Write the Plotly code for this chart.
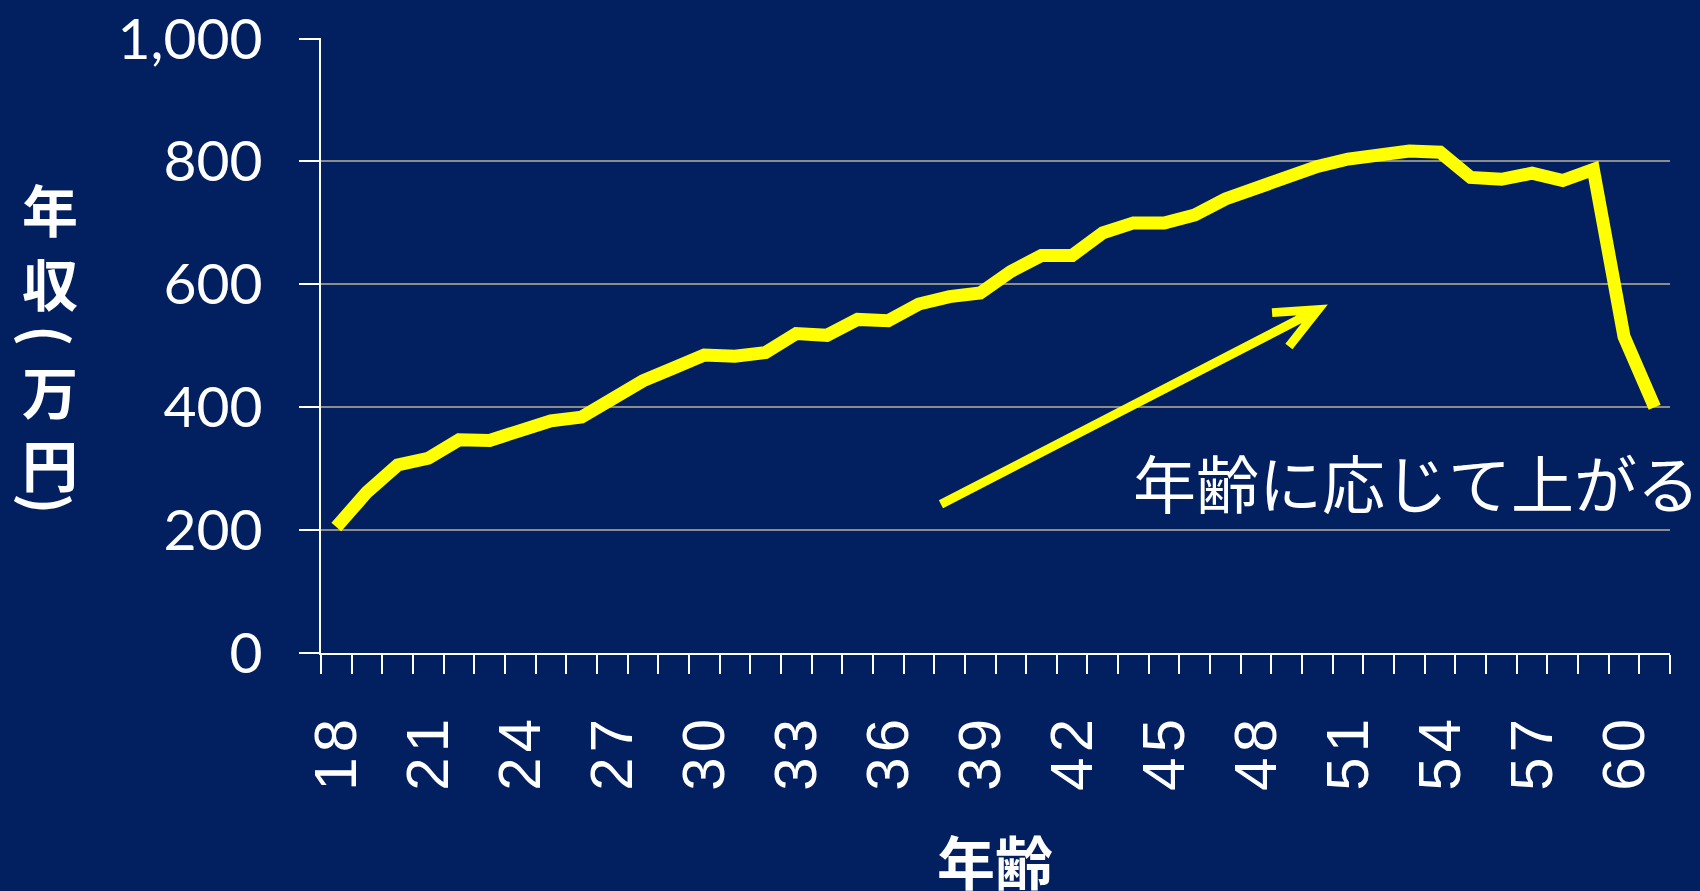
import plotly.graph_objects as go

ages = list(range(18, 62))
income = [205, 262, 306, 317, 347, 346, 362, 378, 384, 416, 443, 464, 485, 483,
          489, 520, 517, 543, 541, 568, 580, 586, 621, 647, 647, 684, 700, 700,
          713, 739, 758, 774, 792, 804, 810, 817, 815, 774, 771, 781, 769, 787,
          515, 400]
x_tick_ages = list(range(18, 61, 3))
y_ticks = [0, 200, 400, 600, 800, 1000]

# arrow (annotation) in data units: tail, tip, two head arms
arrow_tail = (37.72, 242)
arrow_tip = (50.02, 559)
arrow_arm1 = (48.52, 554)
arrow_arm2 = (49.07, 499)

BG = "#022060"
YELLOW = "#FFFF00"

fig = go.Figure()
fig.add_trace(go.Scatter(
    x=ages, y=income, mode="lines",
    line=dict(color=YELLOW, width=13),
    showlegend=False, hoverinfo="skip",
))

fig.update_layout(
    width=1700, height=891,
    paper_bgcolor=BG, plot_bgcolor=BG,
    margin=dict(l=321, r=30, t=38, b=238),
    showlegend=False,
)

fig.update_xaxes(
    range=[17.5, 61.5], automargin=False,
    tickmode="array", tickvals=x_tick_ages,
    ticktext=["\u200a".join(str(a)) for a in x_tick_ages],
    tickangle=-90,
    tickfont=dict(family="Liberation Sans", size=60, color="white"),
    ticks="", ticklabelstandoff=40,
    minor=dict(tick0=17.5, dtick=1, ticks="outside", ticklen=19,
               tickcolor="white", tickwidth=2, showgrid=False),
    showline=True, linecolor="white", linewidth=2,
    showgrid=False, zeroline=False,
)
fig.update_yaxes(
    range=[0, 1001], automargin=False,
    tickmode="array", tickvals=y_ticks, tickformat=",",
    tickfont=dict(family="Lato", size=57, color="white"),
    ticks="outside", ticklen=20, tickcolor="white", tickwidth=2,
    ticklabelstandoff=25,
    showline=True, linecolor="white", linewidth=2,
    showgrid=True, gridcolor="#8C8C8C", gridwidth=2,
    zeroline=False,
)

# Arrow drawn as a path
path = (f"M {arrow_tail[0]},{arrow_tail[1]} L {arrow_tip[0]},{arrow_tip[1]} "
        f"M {arrow_arm1[0]},{arrow_arm1[1]} L {arrow_tip[0]},{arrow_tip[1]} "
        f"L {arrow_arm2[0]},{arrow_arm2[1]}")
fig.add_shape(type="path", path=path, xref="x", yref="y",
              line=dict(color=YELLOW, width=9))

# Annotation text
fig.add_annotation(
    x=(1131 - 321) / 1349, y=(653 - 480) / 615, xref="paper", yref="paper",
    xanchor="left", yanchor="middle",
    text="年齢に応じて上がる", showarrow=False,
    font=dict(family="Noto Sans CJK JP", size=63, color="white"),
)

# X axis title
fig.add_annotation(
    x=(995 - 321) / 1349, y=(653 - 860) / 615, xref="paper", yref="paper",
    xanchor="center", yanchor="middle", text="<b>年齢</b>", showarrow=False,
    font=dict(family="Noto Sans CJK JP", size=58, color="white"),
)

# Y axis title (vertical text, stacked)
y_title_chars = ["年", "収", "(", "万", "円", ")"]
y_title_pos = [207, 281, 335, 389, 462, 503]
y_title_angle = [0, 0, 90, 0, 0, 90]
for ch, py, ang in zip(y_title_chars, y_title_pos, y_title_angle):
    fig.add_annotation(
        x=(50 - 321) / 1349, y=(653 - py) / 615, xref="paper", yref="paper",
        xanchor="center", yanchor="middle", text="<b>" + ch + "</b>",
        showarrow=False, textangle=ang,
        font=dict(family="Noto Sans CJK JP", size=56, color="white"),
    )

fig.write_html("out.html")
